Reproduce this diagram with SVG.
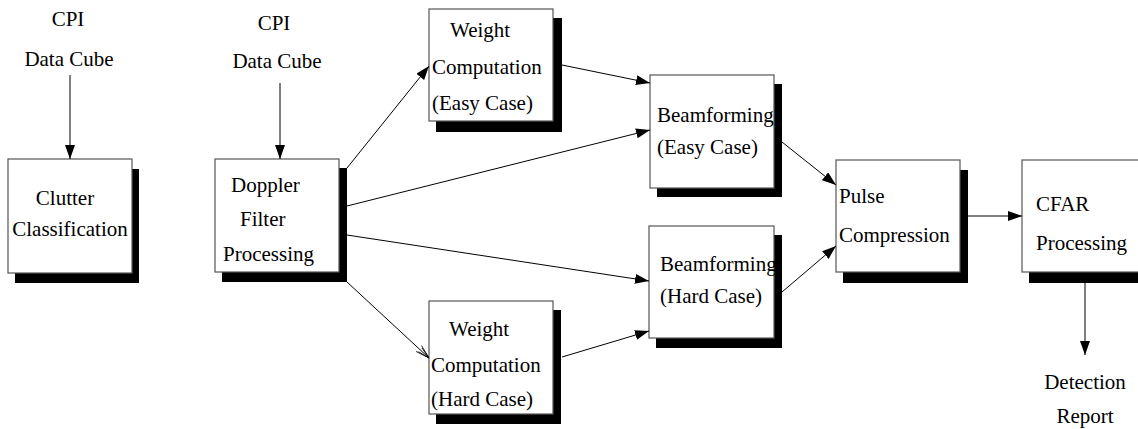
<svg xmlns="http://www.w3.org/2000/svg" width="1138" height="429" viewBox="0 0 1138 429" font-family="'Liberation Serif', 'Times New Roman', 'DejaVu Serif', serif" font-size="21">
  <defs>
    <style>
      text { font-family: "Liberation Serif", "Times New Roman", "DejaVu Serif", serif; font-size: 21px; fill: #000; }
      .mid { text-anchor: middle; }
      .box { fill: #fff; stroke: #555; stroke-width: 1.2; }
      .shadow { fill: #000; }
      .link { stroke: #000; stroke-width: 1; fill: none; marker-end: url(#head); }
      .link-open { stroke: #000; stroke-width: 1; fill: none; marker-end: url(#openhead); }
    </style>
    <marker id="head" viewBox="0 0 14 10" refX="14" refY="5" markerWidth="14" markerHeight="10" markerUnits="userSpaceOnUse" orient="auto">
      <path d="M0,0 L14,5 L0,10 Z" fill="#000"/>
    </marker>
    <marker id="openhead" viewBox="0 0 14 10" refX="14" refY="5" markerWidth="14" markerHeight="10" markerUnits="userSpaceOnUse" orient="auto">
      <path d="M0,1 L14,5 L0,9 M2,2.5 L14,5 L2,7.5" fill="none" stroke="#000" stroke-width="0.8"/>
    </marker>
  </defs>

  <!-- free-standing input / output labels -->
  <text class="mid" x="68" y="26">CPI</text>
  <text class="mid" x="69" y="66">Data Cube</text>
  <text class="mid" x="274" y="30">CPI</text>
  <text class="mid" x="277" y="68">Data Cube</text>
  <text class="mid" x="1085" y="389">Detection</text>
  <text class="mid" x="1085" y="423">Report</text>

  <!-- processing stages -->
  <g id="clutter">
    <rect class="shadow" x="15" y="169" width="124" height="114"/>
    <rect class="box" x="8" y="159" width="124" height="114"/>
    <text class="mid" x="65" y="205">Clutter</text>
    <text class="mid" x="70" y="236">Classification</text>
  </g>

  <g id="doppler">
    <rect class="shadow" x="222" y="168" width="125" height="114"/>
    <rect class="box" x="215" y="159" width="124" height="113"/>
    <text x="231" y="192">Doppler</text>
    <text x="240" y="226">Filter</text>
    <text x="223" y="261">Processing</text>
  </g>

  <g id="weight-easy">
    <rect class="shadow" x="436" y="18" width="126" height="114"/>
    <rect class="box" x="429" y="9" width="124" height="112"/>
    <text x="450" y="37">Weight</text>
    <text x="432" y="74">Computation</text>
    <text x="432" y="110">(Easy Case)</text>
  </g>

  <g id="weight-hard">
    <rect class="shadow" x="436" y="310" width="125" height="114"/>
    <rect class="box" x="429" y="301" width="124" height="113"/>
    <text x="449" y="336">Weight</text>
    <text x="431" y="372">Computation</text>
    <text x="431" y="406">(Hard Case)</text>
  </g>

  <g id="beam-easy">
    <rect class="shadow" x="657" y="84" width="125" height="113"/>
    <rect class="box" x="650" y="75" width="124" height="113"/>
    <text x="657" y="122">Beamforming</text>
    <text x="657" y="154">(Easy Case)</text>
  </g>

  <g id="beam-hard">
    <rect class="shadow" x="656" y="235" width="126" height="113"/>
    <rect class="box" x="649" y="226" width="125" height="112"/>
    <text x="660" y="271">Beamforming</text>
    <text x="660" y="303">(Hard Case)</text>
  </g>

  <g id="pulse">
    <rect class="shadow" x="843" y="170" width="125" height="113"/>
    <rect class="box" x="836" y="160" width="124" height="112"/>
    <text x="839" y="203">Pulse</text>
    <text x="839" y="242">Compression</text>
  </g>

  <g id="cfar">
    <rect class="shadow" x="1029" y="169" width="124" height="114"/>
    <rect class="box" x="1022" y="160" width="124" height="112"/>
    <text x="1036" y="211">CFAR</text>
    <text x="1036" y="250">Processing</text>
  </g>

  <!-- data flow -->
  <g id="connectors">
    <line class="link" x1="70" y1="75" x2="70" y2="159"/>
    <line class="link" x1="280" y1="83" x2="280" y2="159"/>
    <line class="link" x1="347" y1="168" x2="429" y2="66"/>
    <line class="link" x1="347" y1="206" x2="650" y2="130"/>
    <line class="link" x1="347" y1="235" x2="649" y2="281"/>
    <line class="link-open" x1="347" y1="282" x2="429" y2="358"/>
    <line class="link" x1="562" y1="65" x2="650" y2="83"/>
    <line class="link" x1="562" y1="357" x2="649" y2="331"/>
    <line class="link" x1="782" y1="142" x2="836" y2="185"/>
    <line class="link" x1="782" y1="292" x2="836" y2="246"/>
    <line class="link" x1="968" y1="216" x2="1022" y2="216"/>
    <line class="link" x1="1085" y1="283" x2="1085" y2="355"/>
  </g>
</svg>
